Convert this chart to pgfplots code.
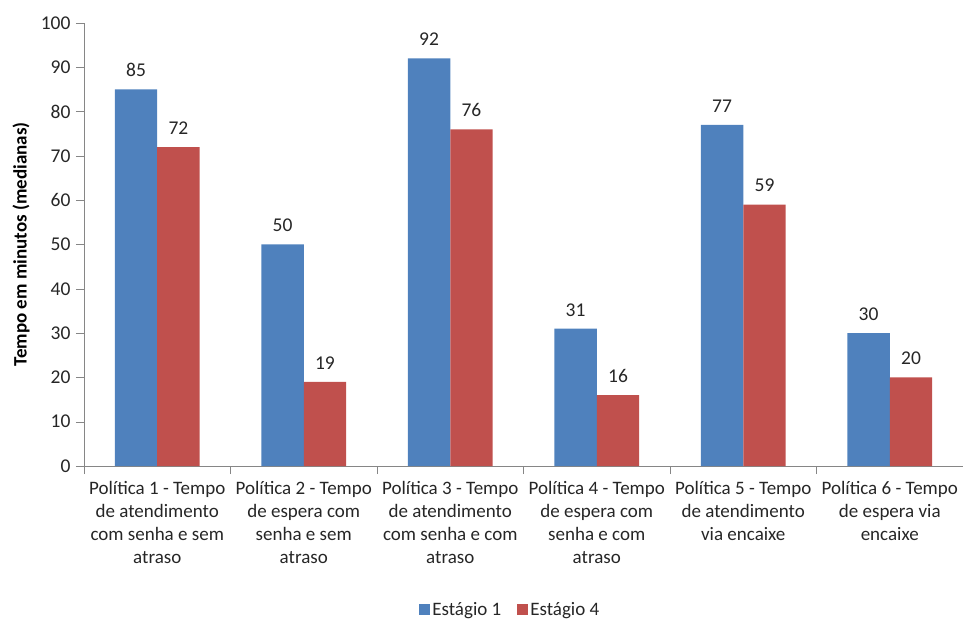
\documentclass[border=0pt]{standalone}
\usepackage{pgfplots}
\pgfplotsset{compat=1.18}
\usepackage{fontspec}
\setmainfont{Carlito}
\definecolor{serieA}{HTML}{4F81BD}
\definecolor{serieB}{HTML}{C0504D}
\definecolor{eixo}{HTML}{868686}
\definecolor{texto}{HTML}{262626}

\begin{document}
\begin{tikzpicture}
\begin{axis}[
  at={(0,0)}, anchor=south west,
  scale only axis,
  width=879pt, height=443pt,
  xmin=-0.5, xmax=5.5,
  ymin=0, ymax=100,
  /pgf/number format/assume math mode=true,
  ytick={0,10,...,100},
  xtick={0,...,5},
  xticklabels={
    {Política 1 - Tempo\\de atendimento\\com senha e sem\\atraso},
    {Política 2 - Tempo\\de espera com\\senha e sem\\atraso},
    {Política 3 - Tempo\\de atendimento\\com senha e com\\atraso},
    {Política 4 - Tempo\\de espera com\\senha e com\\atraso},
    {Política 5 - Tempo\\de atendimento\\via encaixe},
    {Política 6 - Tempo\\de espera via\\encaixe}},
  xticklabel style={align=center, font=\fontsize{19}{23}\selectfont, text=texto, anchor=north, yshift=-4pt},
  yticklabel style={font=\fontsize{19.5}{23}\selectfont, text=texto, xshift=-2pt},
  major x tick style={draw=none},
  minor xtick={-0.5,0.5,...,5.5},
  minor x tick style={draw=eixo},
  minor tick length=8pt,
  major tick length=8pt,
  tick align=outside,
  y tick style={draw=eixo},
  axis x line*=bottom,
  axis y line*=left,
  axis line style={draw=eixo, thick},
  ylabel={\textbf{Tempo em minutos (medianas)}},
  ylabel style={at={(axis description cs:-0.0715,0.5)}, anchor=center, font=\fontsize{19}{22}\selectfont, text=black},
  ybar, bar width=0.29,
  nodes near coords,
  nodes near coords style={font=\fontsize{19.5}{23}\selectfont, text=texto, yshift=9pt},
  legend columns=2,
  legend style={at={(axis description cs:0.485,-0.325)}, anchor=center, draw=none,
    font=\fontsize{19}{23}\selectfont, text=texto,
    /tikz/every even column/.append style={column sep=14pt}},
  legend image code/.code={\fill[#1] (0pt,-5.5pt) rectangle (11pt,5.5pt);},
]
\addplot[fill=serieA, draw=none, bar shift=-0.145] coordinates {(0,85) (1,50) (2,92) (3,31) (4,77) (5,30)};
\addplot[fill=serieB, draw=none, bar shift=0.145] coordinates {(0,72) (1,19) (2,76) (3,16) (4,59) (5,20)};
\legend{Estágio 1, Estágio 4}
\end{axis}
\pgfresetboundingbox
\useasboundingbox (-84pt,-157pt) rectangle (879pt,466pt);
\end{tikzpicture}
\end{document}
